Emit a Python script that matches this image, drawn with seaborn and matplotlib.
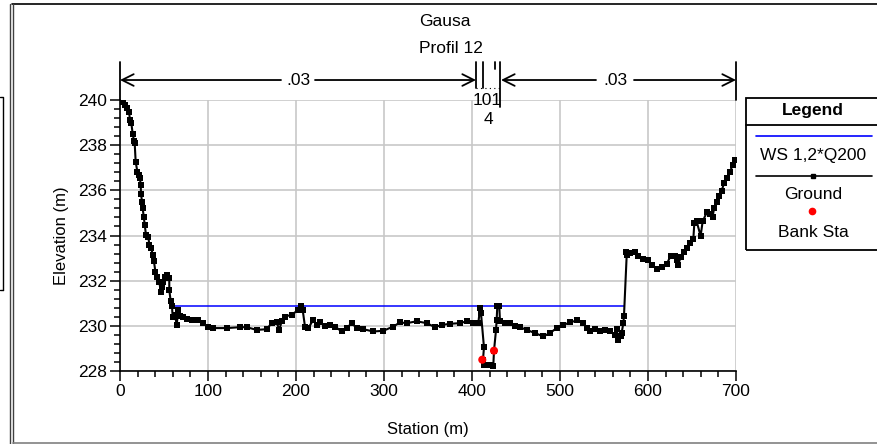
import matplotlib
matplotlib.use("Agg")
import matplotlib.pyplot as plt
import seaborn as sns
import pandas as pd
from matplotlib.lines import Line2D
from matplotlib.patches import Rectangle

# ---------------- data ----------------
station = [0, 3, 5.7, 8.3, 10.2, 11.4, 12.9, 14.4, 15.9, 16.7, 17.8, 19.7, 21.6, 22.7, 23.5,
           23.9, 25.0, 25.8, 26.9, 28.1, 29.5, 32.2, 33.3, 35.6, 37.1, 38.6, 40.2, 41.7, 44.7,
           46.2, 47.7, 49.2, 51.1, 53.8, 56.0, 56.0, 57.6, 59.1, 59.8, 62.5, 64.4, 66.3, 68.2,
           72.0, 75.8, 81.4, 89.0, 94.7, 100.4, 106, 121.2, 136.4, 144, 155.3, 166.7, 172.3,
           178, 181, 183.7, 187.5, 195, 202.6, 205.3, 207.6, 210.2, 214, 219.7, 223.5, 227.3,
           233, 238.6, 244.3, 251.9, 257.6, 263.3, 269, 276.5, 287.9, 299.2, 310.6, 318.2,
           325.8, 337.2, 348.5, 358, 365.6, 375, 386.4, 394, 401.5, 407.2, 409.1, 410.2, 413.6,
           412.5, 414.0, 420.5, 424.2, 425.0, 427.3, 428.0, 428.8, 431.0, 431.8, 437.5, 443.2,
           448.9, 454.5, 462.1, 471.6, 481, 488.6, 496.2, 503.8, 511.4, 519, 526.5, 530.3, 534,
           539.8, 545.5, 551.1, 556.8, 562.5, 564.4, 566.3, 569, 570, 572, 572.7, 575.8, 575,
           579.5, 585.2, 589, 594.7, 600.4, 604.2, 609.9, 615.6, 621.2, 625.8, 630.7, 632.6,
           634.4, 637.2, 640.9, 644, 647.7, 651.5, 652.7, 655.3, 659.8, 662.1, 666.7, 670.5,
           673.5, 675, 678, 681, 683.7, 686.4, 689.4, 693.2, 696.2, 698.9]
elevation = [240.0, 239.9, 239.78, 239.63, 239.48, 239.1, 238.97, 238.5, 238.2, 238.08, 237.27,
             236.83, 236.68, 236.53, 236.24, 235.84, 235.5, 235.2, 234.84, 234.47, 234.03,
             233.95, 233.58, 233.44, 233.14, 232.85, 232.4, 232.18, 231.96, 231.52, 231.74,
             231.96, 232.18, 232.26, 232.1, 231.6, 231.08, 230.86, 230.41, 230.49, 230.04,
             230.7, 230.45, 230.38, 230.3, 230.24, 230.24, 230.12, 229.94, 229.9, 229.9,
             229.94, 229.94, 229.82, 229.85, 230.12, 230.16, 229.82, 230.2, 230.41, 230.49,
             230.7, 230.86, 230.7, 229.97, 229.9, 230.27, 230.04, 230.15, 230.0, 230.04,
             229.97, 229.75, 229.9, 230.12, 229.9, 229.85, 229.75, 229.78, 229.97, 230.15,
             230.12, 230.2, 230.12, 229.94, 230.04, 230.09, 230.12, 230.2, 230.12, 230.12,
             230.78, 230.56, 229.05, 228.5, 228.25, 228.27, 228.23, 228.9, 229.82, 230.27,
             230.88, 230.86, 230.2, 230.12, 230.12, 230.0, 229.94, 229.82, 229.68, 229.53,
             229.68, 229.9, 230.04, 230.15, 230.24, 230.12, 229.9, 229.79, 229.85, 229.75,
             229.82, 229.75, 229.6, 229.85, 229.38, 229.53, 229.68, 230.12, 230.44, 233.14,
             233.29, 233.22, 233.29, 233.1, 232.95, 232.92, 232.7, 232.52, 232.6, 232.73,
             233.1, 233.1, 232.92, 232.7, 233.07, 233.29, 233.44, 233.66, 233.84, 234.57,
             234.62, 233.98, 234.62, 235.02, 234.96, 234.84, 235.2, 235.5, 235.73, 235.99,
             236.31, 236.54, 236.83, 237.12, 237.35]

ws_station = [59.1, 572.7]
ws_elev = [230.87, 230.87]

bank_station = [411.7, 425.0]
bank_elev = [228.5, 228.9]

title_lines = ["Gausa", "Profil 12"]
n_values = [".03", ".03"]
n_channel = ["101", "4"]
legend_title = "Legend"
legend_labels = ["WS 1,2*Q200", "Ground", "Bank Sta"]
xticks = [0, 100, 200, 300, 400, 500, 600, 700]
yticks = [228, 230, 232, 234, 236, 238, 240]

# ---------------- style ----------------
sns.set_style("white")
plt.rcParams["font.family"] = ["Liberation Sans", "DejaVu Sans"]
plt.rcParams["font.size"] = 12
for k in ["text.color", "axes.labelcolor", "xtick.color", "ytick.color"]:
    plt.rcParams[k] = "black"

W, H = 878, 444
fig = plt.figure(figsize=(W / 100, H / 100), dpi=100)
ax = fig.add_axes([120 / W, 1 - 371 / H, 616 / W, 271 / H])

ground_df = pd.DataFrame({"Station": station, "Elevation": elevation})
ws_df = pd.DataFrame({"Station": ws_station, "Elevation": ws_elev})
bank_df = pd.DataFrame({"Station": bank_station, "Elevation": bank_elev})

sns.lineplot(data=ws_df, x="Station", y="Elevation", color="#0000ff", lw=1.1,
             ax=ax, sort=False, estimator=None, zorder=3)
sns.lineplot(data=ground_df, x="Station", y="Elevation", color="black", lw=1.5,
             marker="s", markersize=4.0, markeredgewidth=0, ax=ax, sort=False,
             estimator=None, zorder=4)
sns.scatterplot(data=bank_df, x="Station", y="Elevation", color="#ff0000", s=34,
                edgecolor="none", ax=ax, zorder=5)

ax.set_xlim(0, 700)
ax.set_ylim(228, 240)
ax.set_xticks(xticks)
ax.set_yticks(yticks)
ax.set_xticks(range(0, 701, 20), minor=True)
ax.set_yticks([228 + 0.4 * i for i in range(31)], minor=True)
ax.grid(True, which="major", color="#c8c8c8", lw=1.2)
ax.set_axisbelow(True)
for s in ["top", "right"]:
    ax.spines[s].set_visible(False)
for s in ["left", "bottom"]:
    ax.spines[s].set_color("black")
    ax.spines[s].set_linewidth(1.2)
ax.tick_params(which="major", direction="out", length=7, width=1.1, color="black",
               labelsize=12.5, pad=2, labelcolor="black")
ax.tick_params(which="minor", direction="out", length=4.5, width=1.1, color="black")
ax.tick_params(axis="both", which="both", bottom=True, left=True)

ax.set_xlabel("Station (m)", fontsize=12)
ax.set_ylabel("Elevation (m)", fontsize=12)
ax.xaxis.set_label_coords(0.5, -0.19)
ax.xaxis.label.set_va("top")
ax.yaxis.set_label_coords(-0.082, 0.5)


def py2y(py):
    return 240 - (py - 100) / 22.6


def px2x(px):
    return (px - 120) / 0.88


ya = py2y(80)
arrow = dict(arrowstyle="->,head_length=0.7,head_width=0.35", lw=1.3, color="black",
             shrinkA=0, shrinkB=0)
# left reach arrow
ax.annotate("", xy=(0, ya), xytext=(px2x(281), ya), arrowprops=arrow, annotation_clip=False)
ax.annotate("", xy=(px2x(476), ya), xytext=(px2x(315), ya), arrowprops=arrow,
            annotation_clip=False)
ax.text(px2x(298), ya, n_values[0], ha="center", va="center", fontsize=12.5, clip_on=False)
# right reach arrow
ax.annotate("", xy=(px2x(501), ya), xytext=(px2x(596), ya), arrowprops=arrow,
            annotation_clip=False)
ax.annotate("", xy=(700, ya), xytext=(px2x(634), ya), arrowprops=arrow,
            annotation_clip=False)
ax.text(px2x(615), ya, n_values[1], ha="center", va="center", fontsize=12.5, clip_on=False)

# vertical limit lines
for px, p0, p1 in [(120, 62, 100), (476, 62, 88), (482.7, 62, 88), (495, 62, 69),
                   (500, 62, 107), (736, 62, 100)]:
    ax.plot([px2x(px)] * 2, [py2y(p0), py2y(p1)], color="black", lw=1.3, clip_on=False,
            zorder=6)
ax.plot([px2x(476), px2x(500)], [py2y(87.5)] * 2, color="black", lw=0.8, ls=(0, (1, 3)),
        clip_on=False)
ax.text(px2x(487), py2y(101), n_channel[0], ha="center", va="center", fontsize=12.5,
        clip_on=False, zorder=7)
ax.text(px2x(488), py2y(120), n_channel[1], ha="center", va="center", fontsize=12.5,
        clip_on=False, zorder=7)

# title
fig.text(445 / W, 1 - 22 / H, title_lines[0], ha="center", va="center", fontsize=12.5)
fig.text(451 / W, 1 - 48.5 / H, title_lines[1], ha="center", va="center", fontsize=12.5)

# legend box (manual, cut at right edge)
fig.patches.append(Rectangle((746 / W, 1 - 250 / H), 140 / W, 152 / H,
                             transform=fig.transFigure, fill=False, ec="black", lw=1.3))
fig.lines.append(Line2D([746 / W, 1], [1 - 125 / H] * 2, transform=fig.transFigure,
                        color="black", lw=1.3))
fig.text(813 / W, 1 - 110.5 / H, legend_title, ha="center", va="center", fontsize=12.5,
         fontweight="bold")
fig.lines.append(Line2D([756 / W, 872 / W], [1 - 136 / H] * 2, transform=fig.transFigure,
                        color="#0000ff", lw=1.2))
fig.text(813 / W, 1 - 155.5 / H, legend_labels[0], ha="center", va="center", fontsize=12.5)
fig.lines.append(Line2D([756 / W, 872 / W], [1 - 176 / H] * 2, transform=fig.transFigure,
                        color="black", lw=1.2))
fig.lines.append(Line2D([813 / W], [1 - 176 / H], transform=fig.transFigure, color="black",
                        marker="s", markersize=3.5, lw=0))
fig.text(813 / W, 1 - 194 / H, legend_labels[1], ha="center", va="center", fontsize=12.5)
fig.lines.append(Line2D([812 / W], [1 - 211.5 / H], transform=fig.transFigure, color="#ff0000",
                        marker="o", markersize=4.5, lw=0))
fig.text(813 / W, 1 - 232 / H, legend_labels[2], ha="center", va="center", fontsize=12.5)

# window frame decorations
fig.lines.append(Line2D([12 / W, 1], [1 - 4.5 / H] * 2, transform=fig.transFigure,
                        color="black", lw=1.2))
for px in (10.5, 13.5):
    fig.lines.append(Line2D([px / W] * 2, [0, 1 - 4 / H], transform=fig.transFigure,
                            color="#404040", lw=1.0))
fig.lines.append(Line2D([13 / W, 1], [1 - 442.5 / H] * 2, transform=fig.transFigure,
                        color="#808080", lw=1.2))
fig.lines.append(Line2D([0, 2.5 / W, 2.5 / W], [1 - 97.5 / H, 1 - 97.5 / H, 1 - 290 / H],
                        transform=fig.transFigure, color="black", lw=1.0))
fig.lines.append(Line2D([0, 2.5 / W], [1 - 290 / H] * 2, transform=fig.transFigure,
                        color="black", lw=1.0))

fig.savefig("out.png", dpi=100)
